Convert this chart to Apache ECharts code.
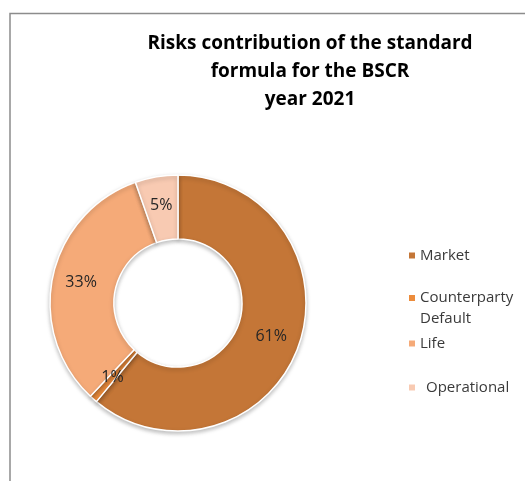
<!DOCTYPE html>
<html>
<head>
<meta charset="utf-8">
<script src="https://cdn.jsdelivr.net/npm/echarts@6/dist/echarts.min.js"></script>
<style>
html,body{margin:0;padding:0;background:#fff;}
#chart{width:525px;height:481px;}
</style>
</head>
<body>
<div id="chart"></div>
<script>
var categories = ['Market', 'Counterparty\nDefault', 'Life', 'Operational'];
var values = [61.0, 1.0, 32.6, 5.4];
var colors = ['#C47637', '#EC8C3C', '#F5AA78', '#F8CAB2'];
var titleText = 'Risks contribution of the standard\nformula for the BSCR\nyear 2021';

var chart = echarts.init(document.getElementById('chart'));
var legendTops = [245, 287.5, 333, 377];
var legends = categories.map(function (c, i) {
  var twoLine = c.indexOf('\n') >= 0;
  return {
    data: [twoLine ? {name: c, icon: 'path://M0,0L8,0L8,8L0,8Z M0,29L0.01,29L0,29Z'} : c],
    left: 407,
    top: legendTops[i],
    padding: 0,
    orient: 'vertical',
    icon: 'rect',
    itemWidth: 8,
    itemHeight: twoLine ? 29 : 8,
    itemGap: 0,
    selectedMode: false,
    textStyle: {fontFamily: 'Open Sans', fontSize: 15, color: '#3a3a3a', lineHeight: 21, padding: [0, 0, 0, i === 3 ? 5 : -1]}
  };
});
chart.setOption({
  animation: false,
  title: {
    text: titleText,
    left: 305,
    top: 25,
    textAlign: 'center',
    textStyle: {fontFamily: 'Open Sans', fontWeight: 'bold', fontSize: 19, color: '#000', lineHeight: 28}
  },
  legend: legends,
  graphic: [
    {type: 'polyline', shape: {points: [[10, 481], [10, 13.5], [525, 13.5]]}, style: {stroke: '#8c8c8c', lineWidth: 1.5, fill: null}}
  ],
  series: [{
    type: 'pie',
    center: [178, 303],
    radius: [64, 128],
    startAngle: 90,
    clockwise: true,
    label: {
      position: 'inside',
      fontFamily: 'Open Sans',
      fontSize: 16,
      color: '#262626',
      formatter: function (p) { return Math.round(p.percent) + '%'; }
    },
    labelLine: {show: false},
    itemStyle: {borderColor: '#fff', borderWidth: 1.5, shadowBlur: 4, shadowColor: 'rgba(0,0,0,0.25)', shadowOffsetY: 2},
    emphasis: {disabled: true},
    data: categories.map(function (c, i) {
      return {name: c, value: values[i], itemStyle: {color: colors[i]}};
    })
  }]
});
</script>
</body>
</html>
